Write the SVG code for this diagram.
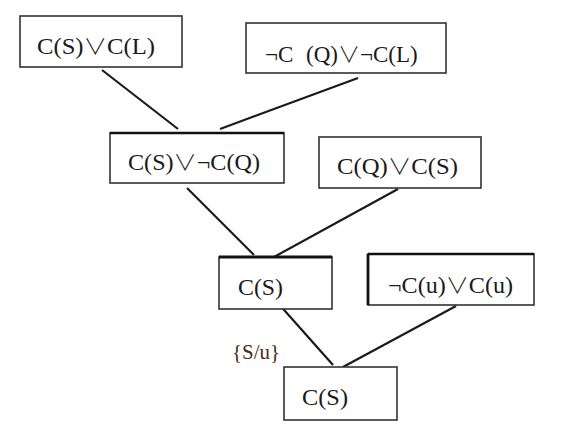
<svg xmlns="http://www.w3.org/2000/svg" width="570" height="440" viewBox="0 0 570 440">
<style>
.box{fill:#fff;stroke:#333;stroke-width:1.6}
.t{font-family:"Liberation Serif","DejaVu Serif",serif;font-size:23px;fill:#1a1a1a}
.v{font-family:"Noto Sans CJK JP","DejaVu Serif",sans-serif;font-weight:300;font-size:22px}
.lbl{font-family:"Liberation Serif","DejaVu Serif",serif;font-size:21px;fill:#4a2a12}
.edge{stroke:#1a1a1a;stroke-width:2.2;fill:none}
</style>
<rect width="570" height="440" fill="#fff"/>
<g id="connectors">
<line class="edge" x1="102" y1="70" x2="178" y2="129"/>
<line class="edge" x1="358" y1="78" x2="220" y2="129"/>
<line class="edge" x1="187" y1="188" x2="254" y2="255"/>
<line class="edge" x1="398" y1="189" x2="274" y2="257"/>
<line class="edge" x1="277" y1="302" x2="333" y2="365"/>
<line class="edge" x1="456" y1="306" x2="343" y2="367"/>
</g>
<g id="n1">
<rect class="box" x="20" y="16" width="162" height="51"/>
<text class="t" x="37" y="54" textLength="118" lengthAdjust="spacingAndGlyphs">C(S)<tspan class="v">∨</tspan>C(L)</text>
</g>
<g id="n2">
<rect class="box" x="246" y="23" width="200" height="50"/>
<text class="t" x="265" y="62"><tspan>¬C</tspan><tspan x="306">(Q)</tspan><tspan class="v">∨</tspan><tspan>¬C(L)</tspan></text>
</g>
<g id="n3">
<rect class="box" x="110" y="133" width="174" height="50"/>
<line x1="110" y1="133" x2="284" y2="133" stroke="#111" stroke-width="2.6"/>
<text class="t" x="128" y="170" textLength="132" lengthAdjust="spacingAndGlyphs">C(S)<tspan class="v">∨</tspan>¬C(Q)</text>
</g>
<g id="n4">
<rect class="box" x="319" y="137" width="162" height="51"/>
<text class="t" x="337" y="174" textLength="121" lengthAdjust="spacingAndGlyphs">C(Q)<tspan class="v">∨</tspan>C(S)</text>
</g>
<g id="n5">
<rect class="box" x="219" y="257" width="113" height="52"/>
<line x1="219" y1="257" x2="332" y2="257" stroke="#111" stroke-width="2.8"/>
<text class="t" x="238" y="295" textLength="45" lengthAdjust="spacingAndGlyphs">C(S)</text>
</g>
<g id="n6">
<rect class="box" x="368" y="254" width="166" height="51"/>
<line x1="368" y1="254" x2="368" y2="305" stroke="#111" stroke-width="2.8"/>
<line x1="368" y1="254" x2="534" y2="254" stroke="#111" stroke-width="2.4"/>
<text class="t" x="388" y="293" textLength="125" lengthAdjust="spacingAndGlyphs">¬C(u)<tspan class="v">∨</tspan>C(u)</text>
</g>
<g id="n7">
<rect class="box" x="284" y="367" width="113" height="53"/>
<text class="t" x="302" y="405" textLength="46" lengthAdjust="spacingAndGlyphs">C(S)</text>
</g>
<text class="lbl" x="232" y="359" textLength="48" lengthAdjust="spacingAndGlyphs">{S/u}</text>
</svg>
